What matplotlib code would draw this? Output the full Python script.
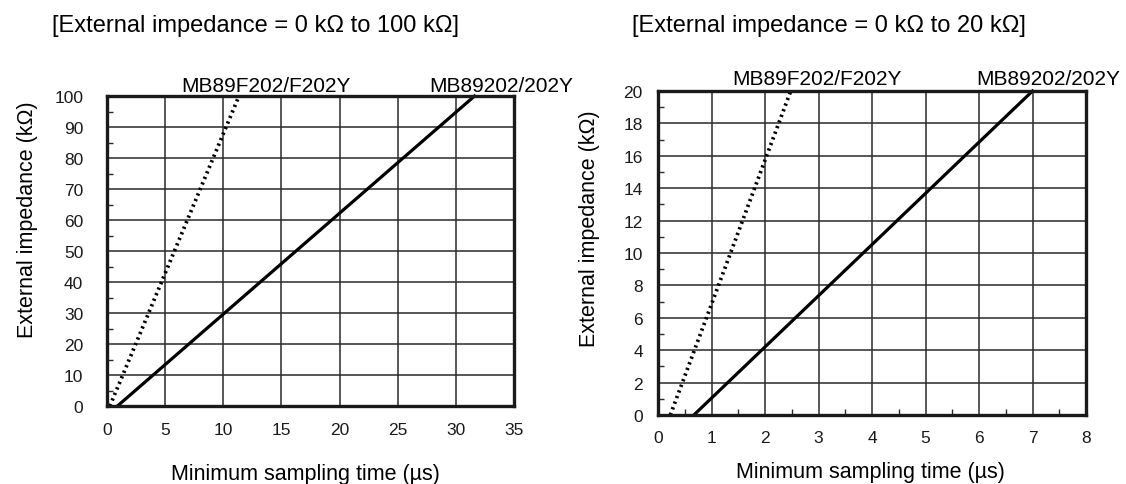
import matplotlib
matplotlib.use("Agg")
import matplotlib.pyplot as plt
from matplotlib.ticker import MultipleLocator

plt.rcParams['font.family'] = ['Liberation Sans', 'DejaVu Sans']

# left chart: 0 to 100 kOhm
left_flash_x = [0.25, 11.35]
left_flash_y = [0, 100]
left_mask_x = [0.9, 31.6]
left_mask_y = [0, 100]

# right chart: 0 to 20 kOhm
right_flash_x = [0.23, 2.48]
right_flash_y = [0, 20]
right_mask_x = [0.67, 7.0]
right_mask_y = [0, 20]

flash_name = "MB89F202/F202Y"
mask_name = "MB89202/202Y"
xlab = "Minimum sampling time (\u00b5s)"
ylab = "External impedance (k\u03a9)"

fig = plt.figure(figsize=(11.26, 4.85), dpi=100)
ax1 = fig.add_axes([0.095, 0.1608, 0.3615, 0.639])
ax2 = fig.add_axes([0.5844, 0.1423, 0.3801, 0.668])


def style(ax, xmax, xstep, ymax, ystep, xminor, ypad, xpad):
    ax.set_xlim(0, xmax)
    ax.set_ylim(0, ymax)
    ax.xaxis.set_major_locator(MultipleLocator(xstep))
    ax.yaxis.set_major_locator(MultipleLocator(ystep))
    ax.yaxis.set_minor_locator(MultipleLocator(ystep / 2))
    if xminor:
        ax.xaxis.set_minor_locator(MultipleLocator(xstep / 2))
    ax.grid(True, which='major', color='#2a2a2a', linewidth=1.1)
    ax.tick_params(which='major', length=0, labelsize=12.5, colors='#1a1a1a')
    ax.tick_params(which='minor', direction='in', length=4, width=1, color='#2a2a2a')
    ax.tick_params(axis='y', pad=ypad)
    ax.tick_params(axis='x', pad=xpad)
    for s in ax.spines.values():
        s.set_linewidth(2.4)
        s.set_color('#1a1a1a')
    ax.set_axisbelow(True)


style(ax1, 35, 5, 100, 10, False, 17, 11.5)
style(ax2, 8, 1, 20, 2, True, 11, 11)

ax1.plot(left_flash_x, left_flash_y, color='black', linewidth=2.7, linestyle=(0, (0.6, 1.0)), clip_on=False)
ax1.plot(left_mask_x, left_mask_y, color='black', linewidth=2.3, clip_on=False)
ax2.plot(right_flash_x, right_flash_y, color='black', linewidth=2.7, linestyle=(0, (0.6, 1.0)), clip_on=False)
ax2.plot(right_mask_x, right_mask_y, color='black', linewidth=2.3, clip_on=False)

ax1.text(13.7, 101.6, flash_name, ha='center', va='baseline', fontsize=15)
ax1.text(33.9, 101.6, mask_name, ha='center', va='baseline', fontsize=15)
ax2.text(2.97, 20.43, flash_name, ha='center', va='baseline', fontsize=15)
ax2.text(7.29, 20.43, mask_name, ha='center', va='baseline', fontsize=15)

fig.text(52 / 1126, 0.934, "[External impedance = 0 k\u03a9 to 100 k\u03a9]", ha='left', va='baseline', fontsize=17)
fig.text(632 / 1126, 0.934, "[External impedance = 0 k\u03a9 to 20 k\u03a9]", ha='left', va='baseline', fontsize=17)

fig.text(305 / 1126, 0.0103, xlab, ha='center', va='baseline', fontsize=15.5)
fig.text(870 / 1126, 0.0145, xlab, ha='center', va='baseline', fontsize=15.5)
fig.text(28 / 1126, 1 - 220 / 485, ylab, ha='center', va='center', rotation=90, fontsize=15.5)
fig.text(589 / 1126, 1 - 229 / 485, ylab, ha='center', va='center', rotation=90, fontsize=15.5)

fig.savefig("out.png", dpi=100)
